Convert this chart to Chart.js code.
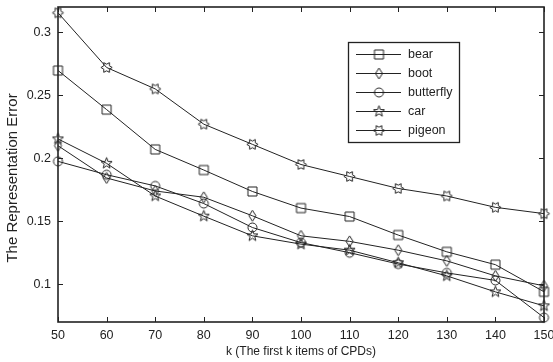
<!DOCTYPE html>
<html>
<head>
<meta charset="utf-8">
<script src="https://cdn.jsdelivr.net/npm/chart.js@4.4.0/dist/chart.umd.min.js"></script>
<style>
  html, body { margin: 0; padding: 0; background: #fff; }
  #wrap { width: 553px; height: 362px; position: relative; }
</style>
</head>
<body>
<div id="wrap"><canvas id="grafica"></canvas></div>
<script>
// --------------------- DATOS ---------------------
const kValues = [50, 60, 70, 80, 90, 100, 110, 120, 130, 140, 150];
const bear = [0.2696, 0.2386, 0.207, 0.1906, 0.1736, 0.1604, 0.1537, 0.139, 0.1257, 0.1155, 0.094];
const boot = [0.2099, 0.1843, 0.174, 0.169, 0.1543, 0.1384, 0.134, 0.127, 0.1185, 0.1066, 0.0987];
const butterfly = [0.1975, 0.1869, 0.178, 0.164, 0.145, 0.133, 0.125, 0.116, 0.109, 0.103, 0.0735];
const car = [0.2153, 0.1959, 0.170, 0.154, 0.1384, 0.1318, 0.127, 0.117, 0.1066, 0.0939, 0.0828];
const pigeon = [0.3154, 0.272, 0.255, 0.227, 0.211, 0.195, 0.1855, 0.176, 0.170, 0.161, 0.156];
const seriesNames = ['bear', 'boot', 'butterfly', 'car', 'pigeon'];
const yTicks = [0.1, 0.15, 0.2, 0.25, 0.3];
const xTicks = [50, 60, 70, 80, 90, 100, 110, 120, 130, 140, 150];
const yTitulo = 'The Representation Error';

const INK = '#222';
const FONT = '"Liberation Sans", Arial, sans-serif';


// --------------------- MARCADORES (estilo matlab, huecos) ---------------------
function marcador(tipo) {
  const c = document.createElement('canvas');
  c.width = 15;
  c.height = 15;
  const g = c.getContext('2d');
  g.strokeStyle = INK;
  g.lineWidth = 1;
  const cx = 7.5, cy = 7.5;
  g.beginPath();
  if (tipo === 'square') {
    g.rect(3, 3, 9, 9);
  } else if (tipo === 'diamond') {
    g.moveTo(cx, 2); g.lineTo(cx + 3.5, cy); g.lineTo(cx, 13); g.lineTo(cx - 3.5, cy); g.closePath();
  } else if (tipo === 'circle') {
    g.arc(cx, cy, 4.5, 0, Math.PI * 2);
  } else if (tipo === 'pentagram') {
    for (let i = 0; i < 10; i++) {
      const r = i % 2 === 0 ? 5.8 : 2.4;
      const a = -Math.PI / 2 + i * Math.PI / 5;
      const px = cx + r * Math.cos(a), py = cy + r * Math.sin(a);
      if (i === 0) g.moveTo(px, py); else g.lineTo(px, py);
    }
    g.closePath();
  } else if (tipo === 'hexagram') {
    for (let i = 0; i < 12; i++) {
      const r = i % 2 === 0 ? 5.6 : 3.3;
      const a = i * Math.PI / 6;
      const px = cx + r * Math.cos(a), py = cy + r * Math.sin(a);
      if (i === 0) g.moveTo(px, py); else g.lineTo(px, py);
    }
    g.closePath();
  }
  g.stroke();
  return c;
}

const estilos = ['square', 'diamond', 'circle', 'pentagram', 'hexagram'].map(marcador);
const valores = [bear, boot, butterfly, car, pigeon];


// --------------------- DATASETS ---------------------
const datasets = seriesNames.map((nombre, i) => ({
  label: nombre,
  data: kValues.map((k, j) => ({ x: k, y: valores[i][j] })),
  borderColor: INK,
  borderWidth: 1,
  pointStyle: estilos[i],
  pointRadius: 5,
  pointHoverRadius: 5,
  fill: false,
  tension: 0,
  clip: false
}));


// --------------------- PLUGIN: caja, ticks hacia dentro, titulo y y leyenda ---------------------
const cajaMatlab = {
  id: 'cajaMatlab',
  afterDraw(chart) {
    const { ctx, chartArea: a, scales } = chart;
    const l = Math.round(a.left), r = Math.round(a.right);
    const t = Math.round(a.top), b = Math.round(a.bottom);
    ctx.save();
    ctx.strokeStyle = INK;

    // marco
    ctx.lineWidth = 1.6;
    ctx.strokeRect(l, t, r - l, b - t);

    // ticks hacia dentro en los cuatro lados
    ctx.lineWidth = 1;
    ctx.beginPath();
    xTicks.forEach(v => {
      const px = Math.round(scales.x.getPixelForValue(v)) + 0.5;
      ctx.moveTo(px, b); ctx.lineTo(px, b - 5);
      ctx.moveTo(px, t); ctx.lineTo(px, t + 5);
    });
    yTicks.forEach(v => {
      const py = Math.round(scales.y.getPixelForValue(v)) + 0.5;
      ctx.moveTo(l, py); ctx.lineTo(l + 5, py);
      ctx.moveTo(r, py); ctx.lineTo(r - 5, py);
    });
    ctx.stroke();

    // titulo del eje y
    ctx.save();
    ctx.translate(13, 178);
    ctx.rotate(-Math.PI / 2);
    ctx.font = '15px ' + FONT;
    ctx.fillStyle = INK;
    ctx.textAlign = 'center';
    ctx.textBaseline = 'middle';
    ctx.fillText(yTitulo, 0, 0);
    ctx.restore();

    // leyenda
    const bx = 348, by = 42, bw = 111, bh = 100;
    ctx.fillStyle = '#fff';
    ctx.fillRect(bx, by, bw, bh);
    ctx.lineWidth = 1.3;
    ctx.strokeRect(bx + 0.5, by + 0.5, bw, bh);
    ctx.lineWidth = 1;
    ctx.font = '12.5px ' + FONT;
    ctx.textBaseline = 'middle';
    seriesNames.forEach((nombre, i) => {
      const yy = Math.round(by + 11.5 + i * 19.2) + 0.5;
      ctx.beginPath();
      ctx.moveTo(356, yy); ctx.lineTo(401, yy);
      ctx.stroke();
      const m = estilos[i];
      ctx.drawImage(m, 379 - m.width / 2, yy - m.height / 2);
      ctx.fillStyle = INK;
      ctx.fillText(nombre, 408, yy);
    });
    ctx.restore();
  }
};


// --------------------- GRAFICA ---------------------
new Chart(document.getElementById('grafica'), {
  type: 'line',
  data: { datasets: datasets },
  options: {
    responsive: true,
    maintainAspectRatio: false,
    animation: false,
    events: [],
    layout: { padding: { top: 7, right: 9, left: 0, bottom: 0 } },
    plugins: {
      legend: { display: false },
      tooltip: { enabled: false }
    },
    scales: {
      x: {
        type: 'linear',
        min: 50,
        max: 150,
        afterBuildTicks: s => { s.ticks = xTicks.map(v => ({ value: v })); },
        afterFit: s => { s.height = 40; s.paddingLeft = 0; s.paddingRight = 0; },
        grid: { display: false, drawTicks: false },
        border: { display: false },
        ticks: { color: INK, padding: 6, maxRotation: 0, font: { family: FONT, size: 12.5 } },
        title: {
          display: true,
          text: 'k (The first k items of CPDs)',
          color: INK,
          padding: { top: 0, bottom: 3 },
          font: { family: FONT, size: 12 }
        }
      },
      y: {
        min: 0.07,
        max: 0.32,
        afterBuildTicks: s => { s.ticks = yTicks.map(v => ({ value: v })); },
        afterFit: s => { s.width = 58; s.paddingTop = 0; s.paddingBottom = 0; },
        grid: { display: false, drawTicks: false },
        border: { display: false },
        ticks: {
          color: INK,
          padding: 7,
          font: { family: FONT, size: 12.5 },
          callback: v => String(Math.round(v * 100) / 100)
        },
        title: { display: false }
      }
    }
  },
  plugins: [cajaMatlab]
});
</script>
</body>
</html>
